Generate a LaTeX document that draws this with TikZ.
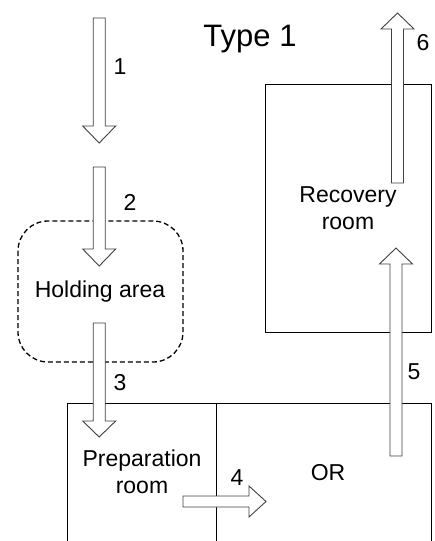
\documentclass[tikz,border=0pt]{standalone}
\usepackage{fontspec}
\setmainfont{Liberation Sans}
\begin{document}
\begin{tikzpicture}[x=1pt,y=-1pt,
  room/.style={draw=black, line width=0.9pt},
  holdbox/.style={draw=black, line width=1.3pt, dash pattern=on 5pt off 3pt, rounded corners=30pt},
  blk/.style={draw=black!75, line width=0.9pt, fill=white, line join=miter},
  lbl/.style={font=\fontsize{23}{27}\selectfont, align=center, inner sep=0pt},
  num/.style={font=\fontsize{23}{27}\selectfont, inner sep=0pt}]
\useasboundingbox (0,0) rectangle (434,541);
\newcommand\vblock[5]{% name, cx, ystart, ybase, ytip
  \draw[blk] ({#2-6},#3) -- ({#2-6},#4) -- ({#2-16.5},#4) -- (#2,#5) coordinate (#1) -- ({#2+16.5},#4) -- ({#2+6},#4) -- ({#2+6},#3) -- cycle;}
% rooms
\draw[room] (265,84) rectangle (431,332);
\node[lbl] (recovery) at (348,208) {Recovery\\room};
\draw[room] (67,541) -- (67,403) -- (431,403) -- (431,541);
\draw[room] (216,403) -- (216,541);
\node[lbl] (prep) at (142,472) {Preparation\\room};
\node[lbl] (or) at (328,473) {OR};
\draw[holdbox] (18,221) rectangle (183,362);
\node[lbl] (hold) at (100,292) {Holding area};
% title
\node[font=\fontsize{31}{36}\selectfont, inner sep=0pt] (title) at (250,39) {Type 1};
% arrows
\vblock{a1}{99.2}{18}{126}{143}
\vblock{a2}{99.2}{167}{249}{266}
\vblock{a3}{99.2}{323}{421}{437}
\vblock{a5}{396}{456}{264}{248}
\vblock{a6}{397.5}{183}{29}{13}
\draw[blk] (183,496) -- (249,496) -- (249,486) -- (266,501.5) coordinate (a4) -- (249,517) -- (249,507) -- (183,507) -- cycle;
% labels
\node[num] (n1) at (120,67) {1};
\node[num] (n2) at (130,202) {2};
\node[num] (n3) at (120,383) {3};
\node[num] (n4) at (237,478) {4};
\node[num] (n5) at (414,372) {5};
\node[num] (n6) at (423,43) {6};
\end{tikzpicture}
\end{document}
